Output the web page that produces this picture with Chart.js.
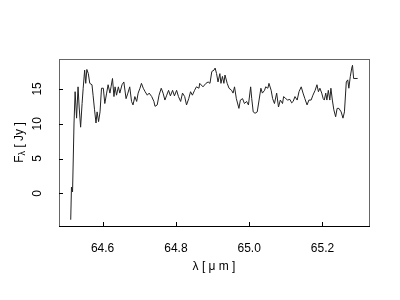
<!DOCTYPE html>
<html>
<head>
<meta charset="utf-8">
<script src="https://cdn.jsdelivr.net/npm/chart.js@4.4.1/dist/chart.umd.min.js"></script>
<style>
  html, body { margin: 0; padding: 0; background: #fff; }
  #wrap { width: 400px; height: 300px; }
</style>
</head>
<body>
<div id="wrap"><canvas id="chart" width="400" height="300"></canvas></div>
<script>
// wavelength (micron) and flux density (Jy)
const wavelength = [
    64.513, 64.515, 64.518, 64.522, 64.525, 64.529, 64.533, 64.536, 64.540, 64.544,
    64.547, 64.551, 64.554, 64.557, 64.561, 64.565, 64.571, 64.574, 64.578, 64.582,
    64.585, 64.589, 64.593, 64.597, 64.602, 64.606, 64.611, 64.615, 64.620, 64.623,
    64.627, 64.631, 64.634, 64.638, 64.643, 64.647, 64.653, 64.658, 64.664, 64.669,
    64.674, 64.679, 64.683, 64.688, 64.693, 64.697, 64.702, 64.706, 64.711, 64.716,
    64.722, 64.727, 64.734, 64.740, 64.743, 64.749, 64.754, 64.760, 64.765, 64.770,
    64.775, 64.780, 64.785, 64.791, 64.796, 64.802, 64.807, 64.813, 64.818, 64.824,
    64.829, 64.835, 64.840, 64.845, 64.851, 64.856, 64.863,
    64.865, 64.874, 64.882, 64.888, 64.893, 64.898, 64.904, 64.907, 64.911, 64.915,
    64.920, 64.923, 64.927, 64.931, 64.934, 64.940, 64.945, 64.952, 64.956, 64.960,
    64.965, 64.972, 64.976, 64.982, 64.987, 64.993, 64.998, 65.004, 65.007, 65.011,
    65.016, 65.022, 65.027, 65.032, 65.036, 65.042, 65.045, 65.051, 65.054, 65.060,
    65.064, 65.069, 65.075, 65.080, 65.085, 65.091, 65.094, 65.100, 65.105, 65.111,
    65.116, 65.120, 65.125, 65.131, 65.136, 65.142, 65.147, 65.152, 65.158, 65.163,
    65.169, 65.174, 65.180, 65.185, 65.189, 65.193, 65.198, 65.202, 65.205, 65.209,
    65.212, 65.216, 65.220, 65.223, 65.227, 65.231, 65.236, 65.240, 65.245, 65.251,
    65.256, 65.260, 65.265, 65.269, 65.272, 65.276, 65.280, 65.282, 65.285, 65.296
];
const flux = [
    -3.8, 0.9, 0.2, 10.1, 14.6, 10.8, 15.3, 12.4, 9.5, 12.9,
    15.1, 17.7, 15.8, 17.8, 17.2, 15.8, 15.6, 14.1, 12.0, 10.1,
    11.7, 10.3, 11.7, 15.1, 15.1, 12.9, 14.4, 15.6, 14.4, 15.3,
    16.5, 13.9, 15.3, 14.1, 15.3, 14.4, 15.6, 16.0, 13.6, 14.4,
    15.3, 13.2, 12.7, 13.9, 13.2, 14.4, 15.1, 15.8, 15.1, 14.6,
    14.1, 14.4, 13.9, 13.2, 12.5, 12.7, 14.1, 15.1, 14.4, 13.4,
    14.1, 14.8, 14.0, 14.8, 14.0, 14.8, 13.9, 13.2, 14.4, 13.9,
    12.7, 13.6, 14.6, 14.1, 14.8, 15.3, 15.1,
    15.8, 15.3, 15.8, 16.0, 15.8, 17.5, 17.7, 18.0, 17.2, 16.0,
    17.2, 15.8, 16.8, 15.8, 17.0, 15.8, 15.1, 14.8, 14.4, 15.3,
    13.6, 12.2, 13.4, 13.6, 12.9, 13.2, 12.7, 15.3, 13.6, 11.7,
    11.5, 11.7, 13.4, 15.1, 14.4, 14.8, 15.3, 15.1, 15.8, 14.8,
    13.6, 12.9, 14.4, 12.4, 13.4, 12.9, 13.9, 13.6, 13.4, 13.5,
    13.0, 13.2, 13.9, 13.4, 14.6, 15.3, 14.4, 13.6, 12.7, 13.4,
    13.4, 14.1, 14.8, 15.6, 14.6, 15.1, 14.4, 13.6, 13.4, 14.4,
    13.4, 14.8, 13.4, 15.1, 13.4, 12.0, 11.0, 12.2, 12.2, 11.7,
    10.8, 11.7, 16.0, 16.3, 15.1, 16.8, 18.0, 18.4, 16.5, 16.5
];
const xTicks = [64.6, 64.8, 65.0, 65.2];
const xTickLabels = ['64.6', '64.8', '65.0', '65.2'];
const yTicks = [0, 5, 10, 15];
const yTickLabels = ['0', '5', '10', '15'];

const FONT = '12px "Liberation Sans", Arial, sans-serif';

// R-style box, inward ticks, rotated y labels
const rAxes = {
    id: 'rAxes',
    afterDraw(chart) {
        const ctx = chart.ctx;
        const a = chart.chartArea;
        const xs = chart.scales.x;
        const ys = chart.scales.y;
        ctx.save();
        ctx.lineWidth = 1;
        ctx.strokeStyle = '#666';
        ctx.strokeRect(a.left + 0.5, a.top + 0.5, a.right - a.left, a.bottom - a.top);
        ctx.strokeStyle = '#000';
        ctx.beginPath();
        ctx.moveTo(a.left, a.bottom + 0.5);
        ctx.lineTo(a.right + 1, a.bottom + 0.5);
        ctx.stroke();

        ctx.fillStyle = '#000';
        ctx.font = FONT;
        ctx.beginPath();
        xTicks.forEach((v, i) => {
            const px = Math.round(xs.getPixelForValue(v)) + 0.5;
            ctx.moveTo(px, a.bottom);
            ctx.lineTo(px, a.bottom - 4);
        });
        yTicks.forEach(v => {
            const py = Math.round(ys.getPixelForValue(v)) + 0.5;
            ctx.moveTo(a.left, py);
            ctx.lineTo(a.left + 4, py);
        });
        ctx.stroke();

        ctx.textAlign = 'center';
        ctx.textBaseline = 'middle';
        xTicks.forEach((v, i) => {
            ctx.fillText(xTickLabels[i], xs.getPixelForValue(v), 249);
        });
        yTicks.forEach((v, i) => {
            ctx.save();
            ctx.translate(38, ys.getPixelForValue(v));
            ctx.rotate(-Math.PI / 2);
            ctx.fillText(yTickLabels[i], 0, 0);
            ctx.restore();
        });

        // axis titles
        ctx.fillText('λ [ μ m ]', (a.left + a.right) / 2, 267);

        ctx.save();
        ctx.translate(20, (a.top + a.bottom) / 2);
        ctx.rotate(-Math.PI / 2);
        const p1 = 'F', sub = 'λ', p2 = ' [ Jy ]';
        ctx.font = FONT;
        const w1 = ctx.measureText(p1).width;
        const w3 = ctx.measureText(p2).width;
        ctx.font = '9px "Liberation Sans", Arial, sans-serif';
        const w2 = ctx.measureText(sub).width;
        let x0 = -(w1 + w2 + w3) / 2;
        ctx.textAlign = 'left';
        ctx.font = FONT;
        ctx.fillText(p1, x0, 0);
        ctx.font = '9px "Liberation Sans", Arial, sans-serif';
        ctx.fillText(sub, x0 + w1, 3);
        ctx.font = FONT;
        ctx.fillText(p2, x0 + w1 + w2, 0);
        ctx.restore();

        ctx.restore();
    }
};

const ctx = document.getElementById('chart').getContext('2d');
new Chart(ctx, {
    type: 'line',
    data: {
        datasets: [{
            data: wavelength.map((w, i) => ({ x: w, y: flux[i] })),
            borderColor: '#222',
            borderWidth: 1,
            pointRadius: 0,
            tension: 0,
            fill: false
        }]
    },
    options: {
        responsive: false,
        animation: false,
        layout: { padding: { left: 59, right: 31, top: 59, bottom: 74 } },
        plugins: { legend: { display: false }, tooltip: { enabled: false } },
        scales: {
            x: { type: 'linear', min: 64.481, max: 65.327, display: false },
            y: { type: 'linear', min: -4.7, max: 19.3, display: false }
        }
    },
    plugins: [rAxes]
});
</script>
</body>
</html>
